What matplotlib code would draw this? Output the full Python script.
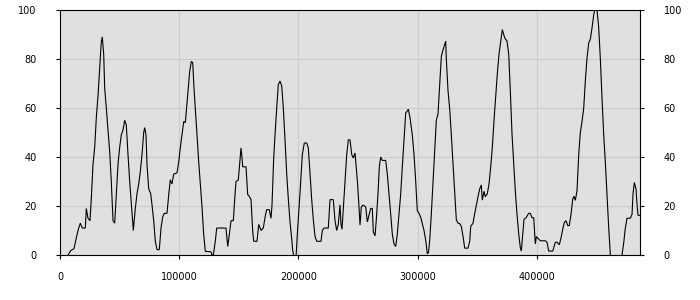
import matplotlib
matplotlib.use("Agg")
import matplotlib.pyplot as plt
from matplotlib.ticker import MultipleLocator

# Data (x position, percentage value)
x_vals = [
    6710, 8980, 11750, 13680, 15100, 17030, 18710, 21230, 22070, 23490,
    25170, 26260, 27690, 29110, 30460, 31880, 33310, 34650, 35490, 36660,
    37500, 38850, 40270, 41700, 43040, 44470, 45890, 47240, 48660, 50090,
    51430, 52860, 54280, 55630, 57050, 58480, 59820, 61500, 63180, 64600,
    66030, 67370, 68800, 70220, 71060, 72150, 72990, 74420, 76100, 77190,
    78610, 79960, 81380, 83310, 84740, 86160, 87510, 89770, 91200, 92540,
    93970, 95390, 98160, 99590, 100930, 102360, 103780, 105130, 105970, 107390,
    108820, 110160, 111340, 112430, 113520, 114940, 116370, 117710, 119140, 120560,
    121910, 126690, 127530, 128620, 130300, 131470, 139270, 140700, 142040, 143470,
    145400, 146830, 147660, 149590, 150430, 151860, 152450, 153290, 156050, 157480,
    158820, 160250, 161670, 162510, 165280, 166700, 168640, 170570, 172250, 173420,
    175600, 177030, 177870, 179290, 180390, 181810, 183150, 184580, 186010, 187350,
    188780, 190200, 191540, 192970, 194390, 195230, 196330, 198000, 199090, 200520,
    201950, 203290, 204970, 206980, 208330, 209750, 211180, 212520, 213950, 215370,
    218980, 220070, 221500, 225100, 226530, 229300, 230730, 232150, 233500, 234920,
    235760, 236600, 237690, 239120, 240540, 241890, 243310, 244740, 246080, 247510,
    249530, 250860, 251700, 252790, 254220, 256480, 257830, 259250, 260680, 262020,
    262860, 264290, 265370, 266800, 267890, 269070, 270410, 273260, 274600, 276030,
    277450, 278800, 280230, 281650, 282990, 284420, 285850, 287190, 288620, 290040,
    291380, 292220, 293650, 295580, 297010, 298430, 299770, 301200, 302630, 303970,
    305400, 306820, 308160, 309160, 310170, 311510, 312950, 314370, 315720, 317140,
    318570, 319910, 321340, 322760, 323600, 324110, 325530, 326960, 328300, 329730,
    331150, 332500, 333920, 335350, 336690, 338120, 339540, 342310, 343730, 344570,
    345670, 346510, 347930, 349280, 350700, 352130, 353470, 354310, 355740, 356830,
    358510, 359930, 361360, 362700, 364130, 365550, 366900, 368320, 369750, 371090,
    373100, 375030, 376460, 377800, 379230, 380650, 382000, 383420, 384850, 386190,
    387030, 388210, 389300, 390970, 393240, 394580, 396010, 397430, 398780, 399620,
    401630, 402980, 407170, 408600, 410020, 413380, 415560, 416980, 418910, 420340,
    421770, 423110, 424530, 425960, 427300, 428730, 430150, 431250, 432340, 433760,
    434600, 435190, 436530, 437960, 439380, 440730, 442150, 443580, 444920, 446350,
    447770, 448610, 450540, 451960, 453310, 454730, 456160, 457500, 458930, 460360,
    461700, 463130, 470680, 471520, 472940, 474290, 475710, 478480, 479910, 480750,
    481840, 483260, 484100, 484940, 486370,
]

y_vals = [
    0, 1.8, 2.6, 7, 10, 13, 11, 11, 19, 15,
    14, 23, 37, 44, 56, 65, 76, 87, 89, 82,
    68, 60, 51, 42, 30, 14, 13, 25, 37, 44,
    49, 51, 55, 53, 41, 30, 21, 10, 19, 25,
    29, 34, 41, 50, 52, 49, 37, 27, 25, 20.5,
    14, 5.6, 2.2, 2.2, 11, 15.6, 17, 17, 24.5, 30.7,
    29, 33, 33.5, 38, 43.7, 49, 54.5, 54, 58.6, 66.8,
    75, 79, 78.5, 68, 60, 49, 38, 29, 19.6, 8.3,
    1.5, 1.3, 0, 0, 5.6, 11, 11, 3.5, 8.3, 14,
    14, 24.6, 30, 30.6, 35.5, 43.7, 41, 36, 36, 24.6,
    24, 22.6, 9.7, 5.6, 5.6, 12.5, 10, 11, 16, 18.5,
    18.5, 15, 20.5, 39.6, 49, 60, 69.5, 71, 69, 60,
    47, 33, 23, 13.5, 6.7, 1.9, -1, -1, 8.3, 19,
    30, 41, 45.7, 45.7, 43.7, 33, 22.6, 14.4, 7.6, 5.6,
    5.6, 10, 11, 11, 22.6, 22.6, 14, 10, 12.5, 20.5,
    12.5, 10.5, 19, 30, 41, 47, 47, 41, 39.6, 41.6,
    30, 19.6, 12.2, 19.6, 20.4, 19.6, 13.5, 16.3, 19, 19,
    9.5, 7.8, 14.4, 25, 36, 40, 38.6, 38.6, 33, 25,
    16.6, 8.5, 4.5, 3.5, 8.5, 16.6, 25, 36, 46.8, 58,
    58.8, 59.5, 56, 49, 41, 30, 18, 17, 15.4, 12.7,
    10, 6, 0.5, 1, 6, 16.6, 30, 44, 55, 57.6,
    70, 81, 83.7, 86, 87.3, 80, 67, 59.5, 49, 37,
    25, 14.4, 13, 12.8, 11.7, 7.6, 2.8, 2.8, 5.6, 11.7,
    12.4, 13, 17, 20.4, 23.8, 27, 28.6, 22.4, 26, 23.8,
    25, 29, 36, 44, 55, 64.6, 74, 82, 87.3, 92,
    88.6, 87.3, 82, 67, 49.3, 37, 26, 16.6, 8.5, 3,
    1.6, 8.5, 14.6, 15.2, 17, 17, 15.2, 15.2, 4.5, 7.5,
    6.5, 5.8, 5.8, 5.2, 1.6, 1.6, 5.2, 5.2, 4.2, 7,
    10.5, 13.3, 14, 12, 12, 16.6, 22.8, 24, 22.3, 26.3,
    34.7, 41, 50, 54.5, 60, 71, 80.3, 86.6, 88, 92.7,
    98, 100, 100, 92.7, 80.3, 64, 49, 38, 24.6, 11,
    0.3, -3, -3, 0, 5, 11, 15, 15, 16.6, 25,
    29.6, 27, 20.6, 16.2, 16.2,
]

x_ticks = [0, 100000, 200000, 300000, 400000]
x_tick_labels = ["0", "100000", "200000", "300000", "400000"]
y_ticks = [0, 20, 40, 60, 80, 100]
y_tick_labels = ["0", "20", "40", "60", "80", "100"]

fig = plt.figure(figsize=(7, 3), dpi=100)
ax = fig.add_axes([60 / 700, 45 / 300, 580 / 700, 245 / 300])
ax.set_facecolor("#e0e0e0")

ax.plot(x_vals, y_vals, color="black", linewidth=0.8, solid_joinstyle="miter")

ax.set_xlim(0, 486600)
ax.set_ylim(0, 100)

ax.set_xticks(x_ticks)
ax.set_xticklabels(x_tick_labels)
ax.set_yticks(y_ticks)
ax.set_yticklabels(y_tick_labels)

ax.grid(True, color="#cccccc", linewidth=0.8)
ax.set_axisbelow(True)

for s in ax.spines.values():
    s.set_color("black")
    s.set_linewidth(0.8)

ax.tick_params(axis="both", direction="out", length=3, width=0.8,
               colors="black", labelsize=7)
ax.tick_params(axis="y", left=True, right=True, labelleft=True,
               labelright=True, pad=14)
ax.tick_params(axis="x", pad=9)

fig.savefig("out.png", dpi=100, facecolor="white")
